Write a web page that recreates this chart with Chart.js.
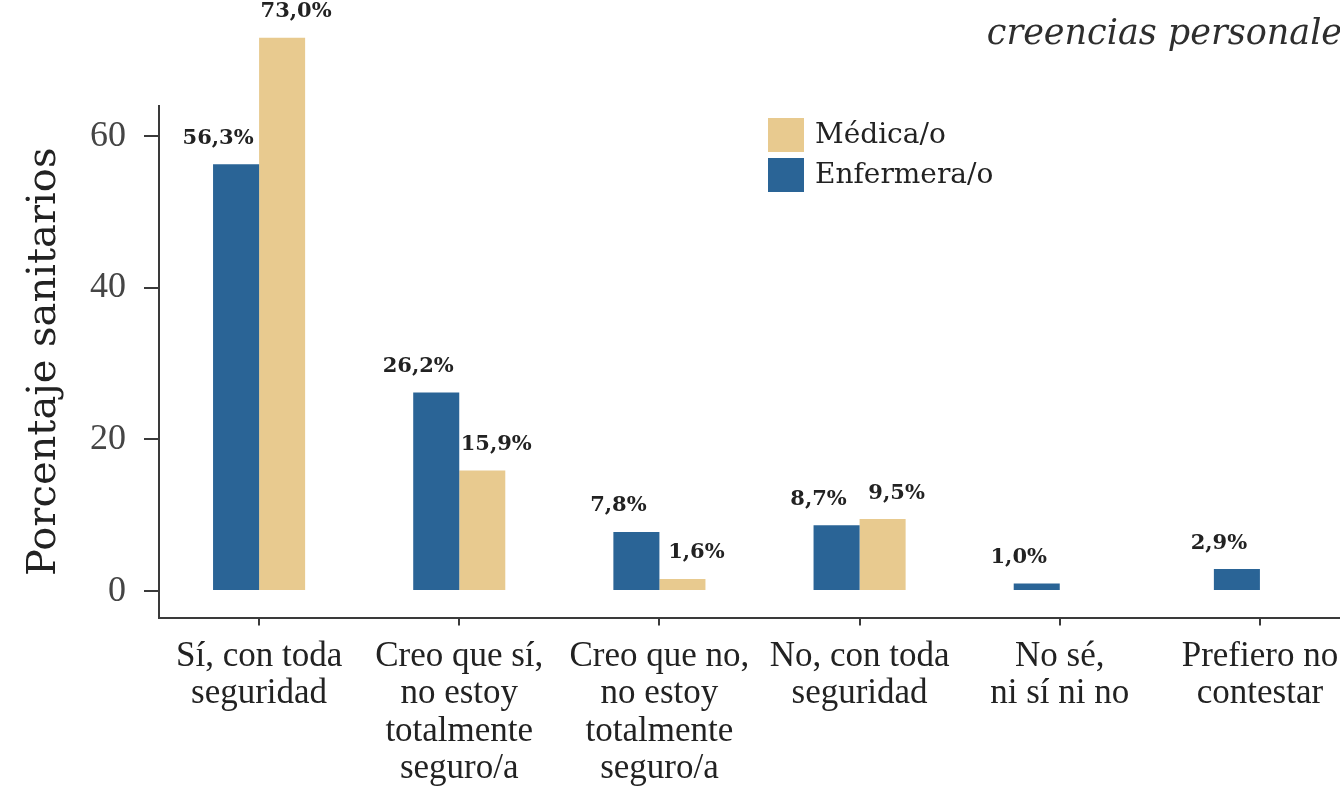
<!DOCTYPE html>
<html>
<head>
<meta charset="utf-8">
<script src="https://cdn.jsdelivr.net/npm/chart.js@4/dist/chart.umd.min.js"></script>
<style>
  html, body { margin: 0; padding: 0; background: #fff; overflow: hidden; }
  #chart { display: block; }
</style>
</head>
<body>
<canvas id="chart" width="1360" height="800"></canvas>
<script>
// Kategorien (mehrzeilig wie im Original)
const categories = [
    ["Sí, con toda", "seguridad"],
    ["Creo que sí,", "no estoy", "totalmente", "seguro/a"],
    ["Creo que no,", "no estoy", "totalmente", "seguro/a"],
    ["No, con toda", "seguridad"],
    ["No sé,", "ni sí ni no"],
    ["Prefiero no", "contestar"],
];

// Werte in Prozent
const enfermeraValues = [56.3, 26.2, 7.8, 8.7, 1.0, 2.9];
const medicaValues = [73.0, 15.9, 1.6, 9.5, null, null];

const yTicks = [0, 20, 40, 60];

const seriesNames = ["Enfermera/o", "Médica/o"];

const colors = {
    blue: "#2a6496",
    tan: "#e8ca8f",
    axis: "#3a3a3a",
    text: "#222222",
    tick: "#454545",
};

const serif = "'Liberation Serif', 'DejaVu Serif', serif";
const wideSerif = "'DejaVu Serif', 'Liberation Serif', serif";

// Prozent-Beschriftung über den Balken (blau etwas links, beige etwas rechts)
const valueLabels = {
    id: "valueLabels",
    afterDatasetsDraw(chart) {
        const ctx = chart.ctx;
        ctx.save();
        ctx.font = "bold 21px " + wideSerif;
        ctx.fillStyle = colors.text;
        ctx.textAlign = "center";
        ctx.textBaseline = "middle";
        chart.data.datasets.forEach((ds, i) => {
            const meta = chart.getDatasetMeta(i);
            const shift = i === 0 ? -18 : 14;
            meta.data.forEach((bar, j) => {
                const v = ds.data[j];
                if (v === null || v === undefined) return;
                const txt = v.toFixed(1).replace(".", ",") + "%";
                ctx.fillText(txt, bar.x + shift, bar.y - 26);
            });
        });
        ctx.restore();
    },
};

// Legende innerhalb der Zeichenfläche (Médica/o oben)
const innerLegend = {
    id: "innerLegend",
    afterDraw(chart) {
        const ctx = chart.ctx;
        const items = [
            { label: seriesNames[1], color: colors.tan },
            { label: seriesNames[0], color: colors.blue },
        ];
        ctx.save();
        ctx.font = "28px " + wideSerif;
        ctx.textBaseline = "middle";
        items.forEach((it, i) => {
            const y = 118 + i * 40;
            ctx.fillStyle = it.color;
            ctx.fillRect(768, y, 36, 34);
            ctx.fillStyle = colors.text;
            ctx.fillText(it.label, 815, y + 18);
        });
        ctx.restore();
    },
};

const canvas = document.getElementById("chart");

new Chart(canvas.getContext("2d"), {
    type: "bar",
    data: {
        labels: categories,
        datasets: [
            {
                label: seriesNames[0],
                data: enfermeraValues,
                backgroundColor: colors.blue,
                clip: false,
            },
            {
                label: seriesNames[1],
                data: medicaValues,
                backgroundColor: colors.tan,
                clip: false,
            },
        ],
    },
    options: {
        responsive: false,
        animation: false,
        layout: { padding: { left: 21, right: 0, top: 8, bottom: 0 } },
        datasets: {
            bar: { categoryPercentage: 0.46, barPercentage: 1.0 },
        },
        plugins: {
            legend: { display: false },
            tooltip: { enabled: false },
            title: {
                display: true,
                text: "creencias personales",
                align: "end",
                color: "#2e2e2e",
                font: { family: wideSerif, size: 35, style: "italic", weight: "normal" },
                padding: { top: 6, bottom: 50 },
            },
        },
        scales: {
            x: {
                grid: { display: true, offset: false, drawOnChartArea: false, tickLength: 8, color: colors.axis, lineWidth: 2 },
                border: { display: true, color: colors.axis, width: 2 },
                ticks: {
                    color: colors.text,
                    font: { family: serif, size: 35, lineHeight: 1.06 },
                    padding: 13,
                    maxRotation: 0,
                    autoSkip: false,
                },
            },
            y: {
                min: -3.5,
                max: 64,
                afterBuildTicks: (scale) => {
                    scale.ticks = yTicks.map((v) => ({ value: v }));
                },
                grid: { display: true, drawOnChartArea: false, tickLength: 15, color: colors.axis, lineWidth: 2 },
                border: { display: true, color: colors.axis, width: 2 },
                ticks: {
                    color: colors.tick,
                    font: { family: serif, size: 36 },
                    padding: 18,
                },
                title: {
                    display: true,
                    text: "Porcentaje sanitarios",
                    color: colors.text,
                    font: { family: wideSerif, size: 40 },
                    padding: { top: 0, bottom: 3 },
                },
            },
        },
    },
    plugins: [valueLabels, innerLegend],
});
</script>
</body>
</html>
